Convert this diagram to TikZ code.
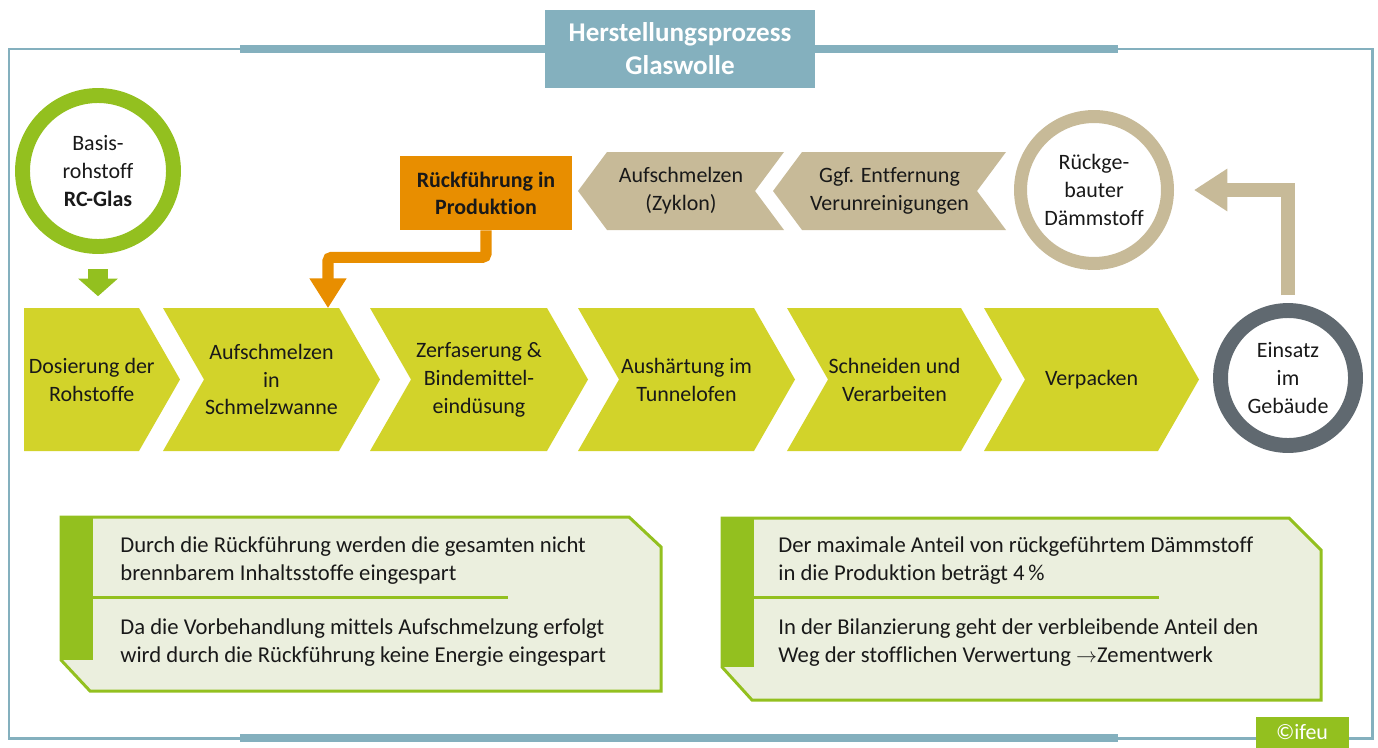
\documentclass[tikz,border=0pt]{standalone}
\usepackage{fontspec}
\setmainfont{Carlito}[Ligatures=NoCommon]
\usetikzlibrary{arrows.meta,calc}

\definecolor{frameblue}{RGB}{132,176,190}
\definecolor{ifeugreen}{RGB}{147,192,31}
\definecolor{stepgreen}{RGB}{210,211,42}
\definecolor{backorange}{RGB}{232,142,0}
\definecolor{sand}{RGB}{199,186,152}
\definecolor{slate}{RGB}{96,105,112}
\definecolor{notefill}{RGB}{235,239,222}
\definecolor{ink}{RGB}{25,25,25}

\begin{document}
\begin{tikzpicture}[x=0.02cm, y=-0.02cm,
  every node/.style={font=\fontsize{12.5}{15.9}\selectfont, text=ink, align=center},
  ring/.style={circle, draw=#1, line width=8.5pt, fill=white, inner sep=0pt},
  steptext/.style={inner sep=0pt, minimum height=2.84cm},
  titlebox/.style={fill=frameblue, text=white, minimum width=5.4cm, minimum height=1.56cm,
    font=\fontsize{15.4}{18.8}\selectfont\bfseries},
  backbox/.style={fill=backorange, minimum width=3.44cm, minimum height=1.48cm,
    font=\fontsize{12.5}{15.4}\selectfont\bfseries},
  notebox/.style={fill=notefill, draw=ifeugreen, line width=1.7pt},
  notetext/.style={anchor=west, align=left, inner sep=0pt, font=\fontsize{12.9}{15.9}\selectfont},
  greenarrow/.style={draw=ifeugreen, line width=11.4pt, -{Triangle[width=22pt, length=10pt]}},
  orangearrow/.style={draw=backorange, line width=6.3pt, rounded corners=2pt, -{Triangle[width=20pt, length=17pt]}},
  sandarrow/.style={draw=sand, line width=8pt, -{Triangle[width=23pt, length=19pt]}}
]
\useasboundingbox (0,0) rectangle (1378,747);

% frame and title
\draw[frameblue, line width=1.7pt] (9,49) rectangle (1372,738);
\node[titlebox] (title) at (680,49) {Herstellungsprozess\\Glaswolle};
\draw[frameblue, line width=5.1pt] (240,49) -- (title.west) (title.east) -- (1118,49);
\draw[frameblue, line width=5.1pt] (240,738) -- (1118,738);

% process steps
\foreach \i/\l/\r/\n/\txt in {1/24/139/0/{Dosierung der\\Rohstoffe},
    2/163/339/41/{Aufschmelzen\\in\\Schmelzwanne},
    3/370/547/41/{Zerfaserung \&\\Bindemittel-\\eindüsung},
    4/578/754/41/{Aushärtung im\\Tunnelofen},
    5/787/961/41/{Schneiden und\\Verarbeiten},
    6/984/1158/41/{Verpacken}}{
  \fill[stepgreen] (\l,308) -- (\r,308) -- (\r+41,379.5) -- (\r,451) -- (\l,451) -- (\l+\n,379.5) -- cycle;
  \node[steptext] (step\i) at ({(\l+\n/2+\r+20.5)/2},379.5) {\txt};
}

% recycling loop
\foreach \i/\l/\r/\txt in {1/578/784/{Aufschmelzen\\(Zyklon)},
    2/773/1006/{Ggf. Entfernung\\Verunreinigungen}}{
  \fill[sand] (\l,191) -- (\l+29,152) -- (\r,152) -- (\r-29,191) -- (\r,230) -- (\l+29,230) -- cycle;
  \node (prep\i) at ({(\l+\r)/2},191) {\txt};
}
\node[backbox] (back) at (486,193) {Rückführung in\\Produktion};

\node[ring=ifeugreen, minimum size=3.02cm] (base) at (98,171) {Basis-\\rohstoff\\\textbf{RC-Glas}};
\node[ring=sand, line width=7.4pt, minimum size=2.94cm] (rueck) at (1094,190) {Rückge-\\bauter\\Dämmstoff};
\node[ring=slate, minimum size=2.7cm] (use) at (1288,378) {Einsatz\\im\\Gebäude};

\draw[greenarrow, shorten <=8.8pt, shorten >=6.8pt] (base.south) -- (base.south |- step1.north);
\draw[orangearrow] (back.south) -- ++(0,27) -| ($(step2.north)+(56.5,0)$);
\draw[sandarrow, shorten <=4.3pt, shorten >=11.4pt] (use.north) |- (rueck.east);

% notes
\filldraw[notebox] (61,517) -- (629,517) -- (661,547) -- (661,691) -- (90,691) -- (61,660) -- cycle;
\fill[ifeugreen] (61,517) rectangle (93,660);
\draw[ifeugreen, line width=1.7pt] (93,597) -- (508,597);
\node[notetext] (noteA) at (120,561) {Durch die Rückführung werden die gesamten nicht\\brennbarem Inhaltsstoffe eingespart};
\node[notetext] (noteB) at (120,643) {Da die Vorbehandlung mittels Aufschmelzung erfolgt\\wird durch die Rückführung keine Energie eingespart};

\filldraw[notebox] (722,518) -- (1289,518) -- (1321,550) -- (1321,700) -- (752,700) -- (722,667) -- cycle;
\fill[ifeugreen] (722,518) rectangle (754,667);
\draw[ifeugreen, line width=1.7pt] (754,597) -- (1159,597);
\node[notetext] (noteC) at (778,561) {Der maximale Anteil von rückgeführtem Dämmstoff\\in die Produktion beträgt 4\,\%};
\node[notetext] (noteD) at (778,643) {In der Bilanzierung geht der verbleibende Anteil den\\Weg der stofflichen Verwertung $\rightarrow$Zementwerk};

\node[fill=ifeugreen, text=white, minimum width=1.86cm, minimum height=0.62cm] (ifeu) at (1302,732) {©ifeu};
\end{tikzpicture}
\end{document}
